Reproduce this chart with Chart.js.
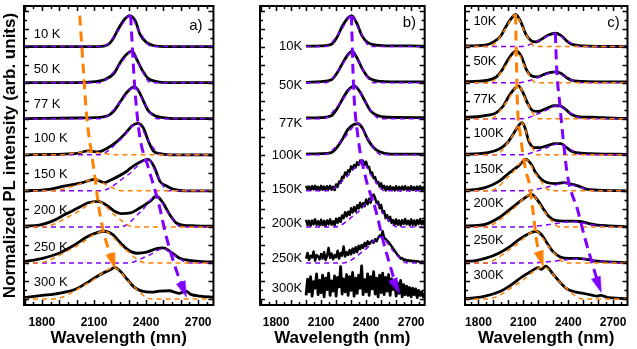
<!DOCTYPE html>
<html><head><meta charset="utf-8">
<script src="https://cdn.jsdelivr.net/npm/chart.js@4.4.1/dist/chart.umd.min.js"></script>
<style>
html,body{margin:0;padding:0;background:#fff;}
#wrap{position:relative;width:637px;height:349px;overflow:hidden;background:#fff;}
canvas{position:absolute;top:0;}
</style></head><body>
<div id="wrap">
<canvas id="cA" width="222" height="349" style="left:0px"></canvas>
<canvas id="cB" width="211" height="349" style="left:224px"></canvas>
<canvas id="cC" width="202" height="349" style="left:435px"></canvas>
</div>
<script>
// ---------- categories / labels ----------
const rowLabelsA = ['10 K','50 K','77 K','100 K','150 K','200 K','250 K','300 K'];
const rowLabelsB = ['10K','50K','77K','100K','150K','200K','250K','300K'];
const rowLabelsC = ['10K','50K','77K','100K','150K','200K','250K','300K'];
const xTickValues = [1800, 2100, 2400, 2700];
const xTickLabels = ['1800', '2100', '2400', '2700'];
const yTitle = 'Normalized PL intensity (arb. units)';
const xTitleA = 'Wavelength (mn)';
const xTitleBC = 'Wavelength (nm)';

// label anchor positions (wavelength, stacked intensity)
const labelXA = 1753, labelYA = [7.33, 6.37, 5.41, 4.45, 3.46, 2.47, 1.43, 0.47];
const labelXB = 1974, labelYB = [7.0, 5.93, 4.86, 3.98, 3.05, 2.09, 1.13, 0.30];
const labelXC = 1766, labelYC = [7.71, 6.59, 5.54, 4.58, 3.60, 2.66, 1.62, 0.66];

// ---------- panel a: measured spectra [nm, normalized PL] ----------
const specA = [
 [[1697,0],[2123,0],[2179,0.05],[2207,0.19],[2235,0.44],[2273,0.74],[2306,0.86],[2338,0.71],[2366,0.33],[2404,0.11],[2441,0.03],[2500,0],[2788,0]],
 [[1697,0],[2050,0.01],[2104,0.03],[2160,0.08],[2216,0.26],[2254,0.58],[2291,0.80],[2319,0.87],[2348,0.63],[2376,0.36],[2413,0.11],[2460,0.03],[2520,0],[2788,0]],
 [[1697,0],[2000,0.02],[2104,0.03],[2179,0.08],[2216,0.22],[2254,0.49],[2291,0.74],[2332,0.88],[2357,0.77],[2385,0.49],[2413,0.22],[2451,0.08],[2498,0.03],[2560,0],[2788,0]],
 [[1697,0],[1991,0.03],[2066,0.11],[2123,0.08],[2179,0.19],[2235,0.38],[2282,0.60],[2319,0.80],[2351,0.87],[2385,0.74],[2413,0.38],[2441,0.11],[2479,0.03],[2540,0],[2788,0]],
 [[1697,0],[1841,0.04],[1935,0.14],[2029,0.22],[2104,0.32],[2160,0.23],[2197,0.30],[2291,0.55],[2310,0.63],[2366,0.80],[2413,0.87],[2450,0.63],[2479,0.27],[2516,0.14],[2554,0.05],[2629,0],[2788,0]],
 [[1697,0.02],[1785,0.05],[1860,0.16],[1935,0.35],[2010,0.53],[2066,0.67],[2123,0.71],[2179,0.58],[2216,0.44],[2254,0.37],[2310,0.39],[2366,0.53],[2422,0.71],[2460,0.85],[2498,0.66],[2535,0.35],[2573,0.11],[2610,0.05],[2685,0.03],[2788,0.02]],
 [[1697,0.04],[1804,0.13],[1898,0.27],[1991,0.51],[2066,0.74],[2123,0.85],[2160,0.88],[2207,0.79],[2254,0.55],[2291,0.38],[2348,0.27],[2404,0.30],[2460,0.40],[2498,0.42],[2535,0.33],[2591,0.14],[2648,0.07],[2723,0.04],[2788,0.03]],
 [[1697,0.04],[1802,0.10],[1898,0.16],[1993,0.27],[2066,0.47],[2139,0.69],[2196,0.82],[2218,0.88],[2252,0.77],[2291,0.55],[2331,0.33],[2376,0.22],[2432,0.19],[2477,0.22],[2533,0.23],[2589,0.16],[2629,0.22],[2657,0.13],[2713,0.08],[2788,0.05]]
];
const fitOrangeA = [
 null, null, null,
 [[1697,0],[1905,0],[1996,0.05],[2066,0.10],[2136,0.05],[2227,0],[2788,0]],
 [[1697,0],[1862,0],[1999,0.16],[2104,0.32],[2174,0.16],[2265,0],[2788,0]],
 [[1697,0],[1801,0],[1983,0.355],[2123,0.71],[2213,0.355],[2330,0],[2788,0]],
 [[1697,0],[1769,0],[1990,0.44],[2160,0.88],[2265,0.44],[2402,0],[2788,0]],
 [[1697,0],[1862,0],[2063,0.43],[2218,0.86],[2311,0.43],[2432,0],[2788,0]]
];
const fitPurpleA = [
 [[1697,0],[2150,0],[2238,0.43],[2306,0.86],[2361,0.43],[2432,0],[2788,0]],
 [[1697,0],[2135,0],[2239,0.435],[2319,0.87],[2366,0.435],[2427,0],[2788,0]],
 [[1697,0],[2141,0],[2249,0.44],[2332,0.88],[2389,0.44],[2463,0],[2788,0]],
 [[1697,0],[2130,0],[2256,0.435],[2351,0.87],[2409,0.435],[2484,0],[2788,0]],
 [[1697,0],[2137,0],[2293,0.435],[2413,0.87],[2463,0.435],[2528,0],[2788,0]],
 [[1697,0],[2253,0],[2370,0.425],[2460,0.85],[2522,0.425],[2603,0],[2788,0]],
 [[1697,0],[2293,0],[2410,0.2],[2500,0.4],[2565,0.2],[2650,0],[2788,0]],
 null
];
const trendOrangeA = [[2018,7.86],[2040,6.29],[2059,5.01],[2087,4.01],[2106,3.35],[2125,2.64],[2153,1.90],[2209,1.04]];
const trendPurpleA = [[2311,7.86],[2334,5.93],[2362,4.56],[2411,3.68],[2473,2.64],[2518,1.70],[2574,0.80],[2617,0.25]];
const arrowAngleA = {orange: 162, purple: 159};

// ---------- panel b ----------
const specB = [
 [[2000,0.01],[2100,0.02],[2168,0.06],[2205,0.25],[2242,0.57],[2280,0.80],[2304,0.86],[2336,0.66],[2374,0.29],[2411,0.11],[2467,0.04],[2561,0.02],[2700,0.02],[2790,0.01]],
 [[2000,0.01],[2100,0.03],[2168,0.08],[2205,0.26],[2242,0.53],[2280,0.78],[2308,0.87],[2336,0.71],[2374,0.39],[2411,0.16],[2449,0.07],[2524,0.03],[2790,0.02]],
 [[2000,0.02],[2100,0.03],[2168,0.08],[2205,0.27],[2242,0.54],[2280,0.79],[2321,0.91],[2355,0.77],[2392,0.49],[2430,0.22],[2467,0.10],[2542,0.04],[2790,0.03]],
 [[2000,0.02],[2100,0.03],[2168,0.06],[2205,0.20],[2242,0.43],[2280,0.71],[2318,0.84],[2346,0.86],[2374,0.75],[2411,0.43],[2449,0.20],[2486,0.09],[2561,0.02],[2790,0.02]]
];
// noisy spectra, sampled every 10 nm from 2000 nm
const noisyStartNm = 2000, noisyStepNm = 10;
const b150 = [0.14,0.03,0.12,0.02,0.13,0.04,0.14,0.03,0.11,0.02, 0.14,0.03,0.12,0.02,0.13,0.04,0.14,0.03,0.11,0.02,
 0.18,0.11,0.26,0.22,0.39,0.36,0.51,0.45,0.57,0.52, 0.68,0.60,0.72,0.65,0.79,0.72,0.84,0.75,0.83,0.72,
 0.81,0.65,0.66,0.48,0.51,0.35,0.38,0.22,0.25,0.12, 0.21,0.07,0.14,0.01,0.12,0.03,0.13,0.02,0.10,0.01,
 0.13,0.02,0.11,0.01,0.12,0.03,0.13,0.02,0.10,0.01, 0.13,0.02,0.11,0.01,0.12,0.03,0.13,0.02,0.10,0.01];
const b200 = [0.20,0.05,0.17,0.03,0.18,0.07,0.21,0.06,0.16,0.04, 0.20,0.05,0.17,0.03,0.18,0.07,0.21,0.06,0.16,0.04,
 0.23,0.11,0.25,0.14,0.32,0.24,0.41,0.29,0.42,0.33, 0.52,0.40,0.55,0.43,0.60,0.51,0.67,0.54,0.66,0.57,
 0.76,0.63,0.78,0.67,0.84,0.90,0.80,0.66,0.70,0.52, 0.61,0.39,0.44,0.24,0.33,0.17,0.28,0.11,0.19,0.06,
 0.21,0.06,0.18,0.04,0.19,0.08,0.22,0.07,0.17,0.05, 0.21,0.06,0.18,0.04,0.19,0.08,0.22,0.07,0.17,0.05];
const b250 = [0.12,0.28,0.08,0.20,0.15,0.32,0.06,0.22,0.18,0.10, 0.25,0.12,0.30,0.08,0.20,0.42,0.14,0.26,0.10,0.22,
 0.16,0.34,0.12,0.28,0.20,0.46,0.18,0.30,0.22,0.36, 0.24,0.40,0.28,0.44,0.30,0.48,0.38,0.50,0.42,0.56,
 0.46,0.60,0.52,0.58,0.62,0.56,0.66,0.60,0.70,0.76, 0.72,0.88,0.70,0.66,0.62,0.58,0.52,0.46,0.40,0.34,
 0.28,0.22,0.18,0.12,0.14,0.08,0.10,0.06,0.08,0.05, 0.07,0.04,0.06,0.03,0.05,0.04,0.02,0.04,0.03,0.02];
const b300 = [0.10,0.55,0.20,0.62,0.08,0.48,0.30,0.70,0.12,0.52, 0.18,0.66,0.06,0.58,0.26,0.72,0.10,0.50,0.22,0.64,
 0.08,0.60,0.34,0.90,0.14,0.56,0.20,0.68,0.10,0.62, 0.24,0.74,0.08,0.58,0.16,0.66,0.30,0.92,0.12,0.54,
 0.20,0.70,0.10,0.62,0.28,0.76,0.14,0.58,0.06,0.66, 0.18,0.72,0.12,0.60,0.22,0.68,0.10,0.56,0.26,0.50,
 0.08,0.44,0.16,0.52,0.06,0.40,0.12,0.36,0.10,0.32, 0.06,0.30,0.12,0.28,0.04,0.24,0.10,0.20,0.06,0.16];
const fitPurpleB = [
 [[2000,0],[2131,0],[2229,0.43],[2304,0.86],[2358,0.43],[2428,0],[2790,0]],
 [[2000,0],[2133,0],[2232,0.435],[2308,0.87],[2368,0.435],[2446,0],[2790,0]],
 [[2000,0],[2114,0],[2231,0.455],[2321,0.91],[2395,0.455],[2491,0],[2790,0]],
 [[2000,0],[2116,0],[2246,0.43],[2346,0.86],[2413,0.43],[2500,0],[2790,0]],
 [[2000,0],[2144,0],[2274,0.40],[2374,0.80],[2439,0.40],[2524,0],[2790,0]],
 [[2000,0],[2192,0],[2335,0.375],[2445,0.75],[2515,0.375],[2606,0],[2790,0]],
 [[2000,0],[2247,0],[2390,0.36],[2500,0.72],[2575,0.36],[2673,0],[2790,0]],
 null
];
const trendPurpleB = [[2302,7.86],[2316,5.92],[2344,4.55],[2396,3.38],[2465,2.45],[2513,1.62],[2565,0.85],[2601,0.34]];
const arrowAngleB = {purple: 155};

// ---------- panel c ----------
const specC = [
 [[1710,0.02],[1733,0.02],[1845,0.04],[1901,0.13],[1948,0.29],[1986,0.57],[2023,0.80],[2048,0.89],[2080,0.71],[2117,0.34],[2154,0.16],[2183,0.13],[2220,0.20],[2267,0.32],[2314,0.37],[2351,0.31],[2389,0.16],[2426,0.06],[2501,0.02],[2796,0]],
 [[1710,0.03],[1733,0.03],[1864,0.07],[1920,0.16],[1958,0.35],[1995,0.62],[2032,0.83],[2055,0.87],[2089,0.71],[2117,0.39],[2154,0.19],[2192,0.16],[2239,0.23],[2276,0.28],[2314,0.30],[2351,0.26],[2389,0.14],[2426,0.06],[2520,0.03],[2796,0.02]],
 [[1710,0.04],[1733,0.04],[1864,0.10],[1920,0.17],[1967,0.36],[2004,0.63],[2042,0.84],[2066,0.91],[2098,0.72],[2126,0.45],[2164,0.22],[2201,0.20],[2257,0.29],[2304,0.36],[2342,0.36],[2379,0.27],[2417,0.13],[2464,0.06],[2558,0.04],[2745,0.01],[2796,0.01]],
 [[1710,0.02],[1733,0.02],[1864,0.06],[1939,0.16],[1995,0.34],[2032,0.57],[2070,0.82],[2089,0.89],[2111,0.75],[2136,0.38],[2173,0.20],[2211,0.20],[2257,0.25],[2314,0.31],[2351,0.31],[2389,0.20],[2426,0.09],[2501,0.04],[2796,0.01]],
 [[1710,0.02],[1733,0.02],[1845,0.09],[1939,0.27],[1995,0.46],[2023,0.55],[2070,0.70],[2098,0.82],[2117,0.87],[2154,0.73],[2183,0.50],[2220,0.32],[2257,0.23],[2314,0.20],[2370,0.23],[2407,0.20],[2464,0.14],[2520,0.05],[2595,0.02],[2796,0]],
 [[1710,0.03],[1733,0.03],[1845,0.07],[1939,0.26],[1995,0.44],[2051,0.62],[2108,0.80],[2154,0.90],[2192,0.76],[2229,0.53],[2267,0.30],[2314,0.18],[2370,0.16],[2426,0.16],[2482,0.15],[2539,0.09],[2595,0.05],[2670,0.03],[2796,0.01]],
 [[1710,0.05],[1733,0.05],[1845,0.13],[1939,0.28],[2014,0.47],[2070,0.65],[2126,0.79],[2183,0.88],[2220,0.79],[2257,0.56],[2295,0.33],[2351,0.16],[2407,0.13],[2464,0.13],[2520,0.10],[2595,0.05],[2670,0.03],[2796,0.01]],
 [[1710,0.02],[1733,0.02],[1845,0.08],[1939,0.20],[2014,0.38],[2089,0.61],[2145,0.75],[2201,0.87],[2220,0.82],[2248,0.91],[2295,0.71],[2342,0.48],[2389,0.29],[2445,0.20],[2501,0.16],[2558,0.11],[2590,0.08],[2614,0.10],[2670,0.04],[2745,0.02],[2796,0.01]]
];
const fitOrangeC = [
 [[1710,0],[1876,0],[1973,0.445],[2048,0.89],[2105,0.445],[2179,0],[2796,0]],
 [[1710,0],[1876,0],[1977,0.435],[2055,0.87],[2111,0.435],[2184,0],[2796,0]],
 [[1710,0],[1882,0],[1986,0.455],[2066,0.91],[2124,0.455],[2199,0],[2796,0]],
 [[1710,0],[1917,0],[2014,0.445],[2089,0.89],[2134,0.445],[2193,0],[2796,0]],
 [[1710,0],[1876,0],[2012,0.435],[2117,0.87],[2189,0.435],[2283,0],[2796,0]],
 [[1710,0],[1844,0],[2019,0.45],[2154,0.90],[2236,0.45],[2343,0],[2796,0]],
 [[1710,0],[1838,0],[2033,0.44],[2183,0.88],[2273,0.44],[2390,0],[2796,0]],
 [[1710,0],[1856,0],[2070,0.445],[2235,0.89],[2350,0.445],[2500,0],[2796,0]]
];
const fitPurpleC = [
 [[1710,0],[2084,0],[2214,0.185],[2314,0.37],[2384,0.185],[2475,0],[2796,0]],
 [[1710,0],[2069,0],[2205,0.15],[2310,0.30],[2385,0.15],[2483,0],[2796,0]],
 [[1710,0],[2089,0],[2225,0.18],[2330,0.36],[2405,0.18],[2503,0],[2796,0]],
 [[1710,0],[2087,0],[2230,0.155],[2340,0.31],[2410,0.155],[2501,0],[2796,0]],
 [[1710,0],[2104,0],[2260,0.105],[2380,0.21],[2470,0.105],[2587,0],[2796,0]],
 [[1710,0],[2108,0],[2290,0.075],[2430,0.15],[2540,0.075],[2683,0],[2796,0]],
 [[1710,0],[2135,0],[2330,0.06],[2480,0.12],[2600,0.06],[2756,0],[2796,0]],
 null
];
const trendOrangeC = [[2048,7.89],[2060,5.47],[2080,4.56],[2117,3.54],[2136,3.27],[2164,2.45],[2192,1.53],[2219,1.10]];
const trendPurpleC = [[2314,7.37],[2323,6.38],[2342,5.47],[2370,4.28],[2396,3.40],[2464,2.45],[2510,1.71],[2548,1.16],[2604,0.38]];
const arrowAngleC = {orange: 163, purple: 160};

// ---------- styling ----------
const FONT = '"Liberation Sans", Arial, Helvetica, sans-serif';
const ORANGE = '#FF8000', PURPLE = '#8000FF';
const Y_MIN = -0.165, Y_MAX = 8.125;

function arrowImage(color) {
  const c = document.createElement('canvas'); c.width = 10; c.height = 17;
  const g = c.getContext('2d'); g.fillStyle = color;
  g.beginPath(); g.moveTo(5, 0); g.lineTo(10, 17); g.lineTo(0, 17); g.closePath(); g.fill();
  return c;
}
function rowPts(pts, row) { return pts.map(p => ({x: p[0], y: p[1] + (7 - row)})); }
function noisyPts(vals) { return vals.map((v, k) => [noisyStartNm + k * noisyStepNm, v]); }

function buildPanel(id, cfg) {
  const ds = [];
  cfg.spectra.forEach((pts, i) => {
    const noisy = cfg.noisyRows && cfg.noisyRows.includes(i);
    ds.push({data: rowPts(pts, i), borderColor: '#000', borderWidth: noisy ? (i === 7 ? 2.8 : 2.4) : 2.8,
      borderJoinStyle: 'round', cubicInterpolationMode: noisy ? 'default' : 'monotone', tension: 0, pointRadius: 0, order: 5});
  });
  const fitStyle = (col, ord) => ({borderColor: col, borderWidth: 1.5, borderDash: [5, 4],
      cubicInterpolationMode: 'monotone', pointRadius: 0, order: ord});
  (cfg.fitPurple || []).forEach((pts, i) => { if (pts) ds.push(Object.assign({data: rowPts(pts, i)}, fitStyle(PURPLE, 4))); });
  (cfg.fitOrange || []).forEach((pts, i) => { if (pts) ds.push(Object.assign({data: rowPts(pts, i)}, fitStyle(ORANGE, 3))); });
  cfg.trends.forEach(t => {
    ds.push({data: t.pts.map(p => ({x: p[0], y: p[1]})), borderColor: t.color, borderWidth: 3,
      borderDash: [10, 6], cubicInterpolationMode: 'monotone', pointRadius: 0, order: 2});
    const last = t.pts[t.pts.length - 1];
    ds.push({data: [{x: last[0], y: last[1]}], showLine: false, pointStyle: arrowImage(t.color),
      pointRotation: t.angle, pointRadius: 5, order: 1});
  });

  const decor = {
    id: 'decor' + id,
    afterDatasetsDraw(chart) {
      const {ctx, chartArea: ca, scales: {x, y}} = chart;
      ctx.save();
      ctx.strokeStyle = '#000'; ctx.lineWidth = 1.5; ctx.setLineDash([]);
      ctx.beginPath();
      for (let v = Math.ceil(x.min / 50) * 50; v <= x.max; v += 50) {
        const px = Math.round(x.getPixelForValue(v)) + 0.5;
        const len = v % 100 === 0 ? 5 : 3;
        ctx.moveTo(px, ca.bottom); ctx.lineTo(px, ca.bottom - len);
        ctx.moveTo(px, ca.top); ctx.lineTo(px, ca.top + len);
      }
      for (let k = Math.ceil(y.min * 4); k <= y.max * 4; k++) {
        const py = Math.round(y.getPixelForValue(k / 4)) + 0.5;
        const len = k % 2 === 0 ? 5 : 3;
        ctx.moveTo(ca.left, py); ctx.lineTo(ca.left + len, py);
        ctx.moveTo(ca.right, py); ctx.lineTo(ca.right - len, py);
      }
      ctx.stroke();
      ctx.lineWidth = 2;
      ctx.strokeRect(ca.left, ca.top, ca.right - ca.left, ca.bottom - ca.top);
      ctx.fillStyle = '#000';
      ctx.font = '13px ' + FONT; ctx.textBaseline = 'middle'; ctx.textAlign = cfg.labelAlign;
      cfg.labels.forEach((t, i) => ctx.fillText(t, x.getPixelForValue(cfg.labelX), y.getPixelForValue(cfg.labelY[i])));
      ctx.font = '15px ' + FONT; ctx.textAlign = 'left';
      ctx.fillText(cfg.letter, x.getPixelForValue(cfg.letterPos[0]), y.getPixelForValue(cfg.letterPos[1]));
      ctx.restore();
    }
  };

  new Chart(document.getElementById(id), {
    type: 'line',
    data: {datasets: ds},
    plugins: [decor],
    options: {
      responsive: false, animation: false, devicePixelRatio: 1, events: [],
      layout: {padding: {left: cfg.padL, right: cfg.padR, top: 3, bottom: 0}},
      plugins: {legend: {display: false}, tooltip: {enabled: false}},
      scales: {
        x: {type: 'linear', min: cfg.xMin, max: cfg.xMax,
          grid: {display: false, drawTicks: false}, border: {display: false},
          afterBuildTicks: s => { s.ticks = xTickValues.map(v => ({value: v})); },
          ticks: {color: '#000', font: {family: FONT, size: 12, weight: 'bold'}, padding: 10,
                  maxRotation: 0, autoSkip: false, callback: (v, i) => xTickLabels[i]},
          title: {display: true, text: cfg.xTitle, color: '#000', font: {family: FONT, size: 17, weight: 'bold'},
                  padding: {top: 0, bottom: 0}},
          afterFit: s => { s.height = 44; }
        },
        y: {type: 'linear', min: Y_MIN, max: Y_MAX, display: cfg.showY,
          grid: {display: false, drawTicks: false}, border: {display: false},
          ticks: {display: false},
          title: {display: true, text: yTitle, color: '#000', font: {family: FONT, size: 17, weight: 'bold'}, padding: 0},
          afterFit: s => { s.width = 24; }
        }
      }
    }
  });
}

buildPanel('cA', {
  spectra: specA, fitOrange: fitOrangeA, fitPurple: fitPurpleA,
  trends: [{pts: trendOrangeA, color: ORANGE, angle: arrowAngleA.orange}, {pts: trendPurpleA, color: PURPLE, angle: arrowAngleA.purple}],
  labels: rowLabelsA, labelX: labelXA, labelY: labelYA, labelAlign: 'left',
  letter: 'a)', letterPos: [2648, 7.58],
  xMin: 1697, xMax: 2788, padL: 0, padR: 4, xTitle: xTitleA, showY: true
});
buildPanel('cB', {
  spectra: specB.concat([noisyPts(b150), noisyPts(b200), noisyPts(b250), noisyPts(b300)]),
  noisyRows: [4, 5, 6, 7], fitPurple: fitPurpleB,
  trends: [{pts: trendPurpleB, color: PURPLE, angle: arrowAngleB.purple}],
  labels: rowLabelsB, labelX: labelXB, labelY: labelYB, labelAlign: 'right',
  letter: 'b)', letterPos: [2644, 7.66],
  xMin: 1693, xMax: 2790, padL: 12, padR: 4, xTitle: xTitleBC, showY: false
});
buildPanel('cC', {
  spectra: specC, fitOrange: fitOrangeC, fitPurple: fitPurpleC,
  trends: [{pts: trendOrangeC, color: ORANGE, angle: arrowAngleC.orange}, {pts: trendPurpleC, color: PURPLE, angle: arrowAngleC.purple}],
  labels: rowLabelsC, labelX: labelXC, labelY: labelYC, labelAlign: 'left',
  letter: 'c)', letterPos: [2661, 7.66],
  xMin: 1710, xMax: 2796, padL: 6, padR: 3, xTitle: xTitleBC, showY: false
});
</script>
</body></html>
